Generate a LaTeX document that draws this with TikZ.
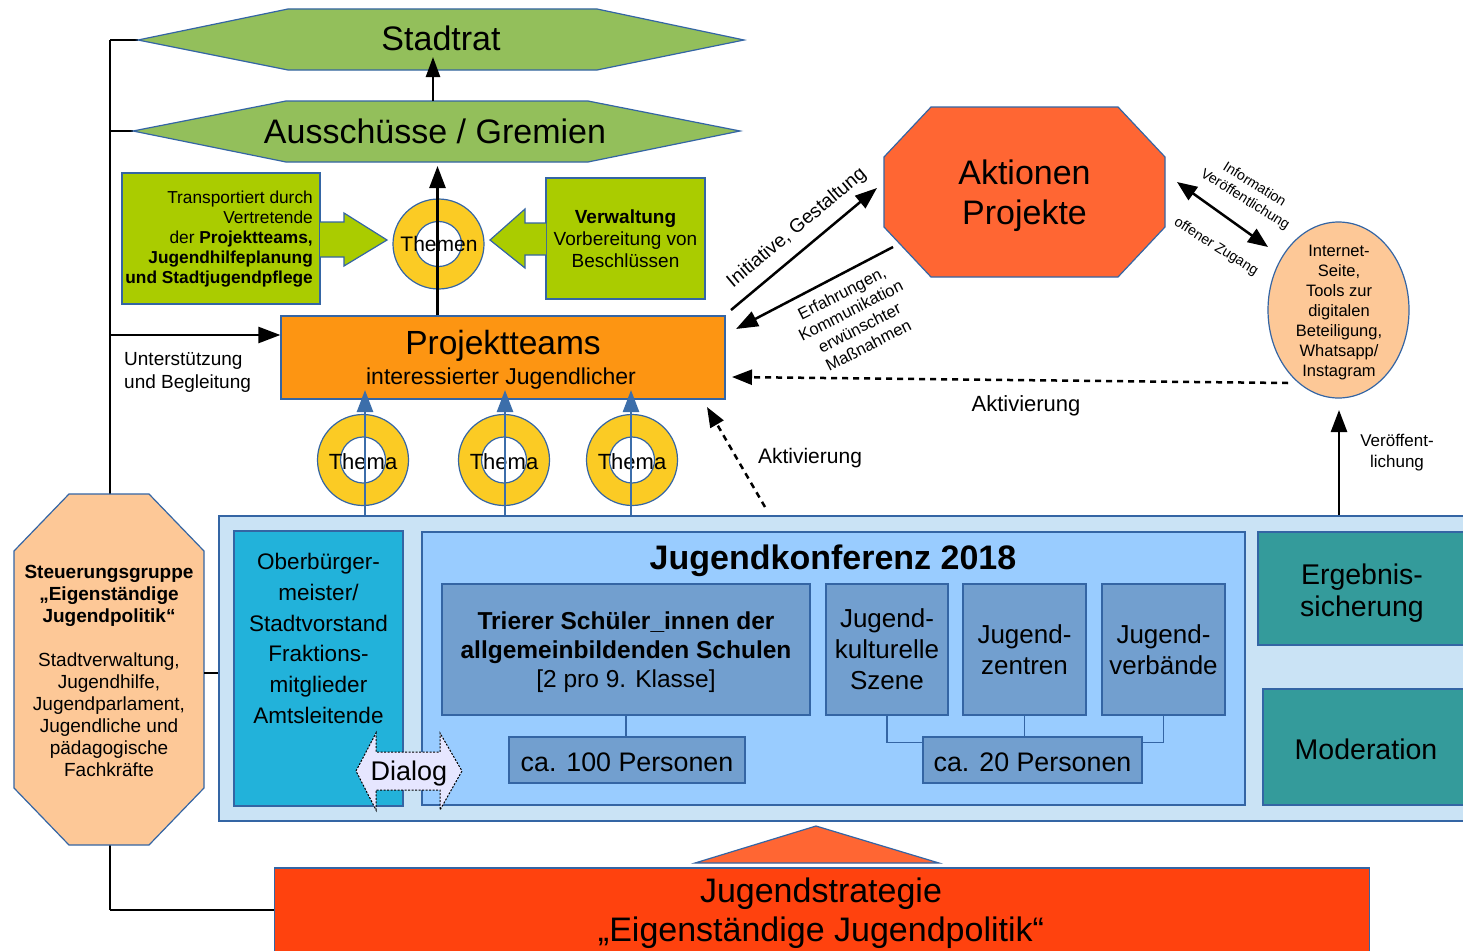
\documentclass[tikz,border=0pt]{standalone}
\usepackage{fontspec}
\setmainfont{Liberation Sans}
\usetikzlibrary{arrows.meta,calc,shapes.geometric}
\definecolor{cHex}{HTML}{93BF5B}
\definecolor{cLime}{HTML}{AACC00}
\definecolor{cYel}{HTML}{FBCB24}
\definecolor{cOrg}{HTML}{FD9512}
\definecolor{cAkt}{HTML}{FF6633}
\definecolor{cStrat}{HTML}{FF420E}
\definecolor{cPeach}{HTML}{FDC897}
\definecolor{cBig}{HTML}{CAE3F5}
\definecolor{cCyan}{HTML}{22B2DA}
\definecolor{cKonf}{HTML}{99CCFF}
\definecolor{cSteel}{HTML}{729FCF}
\definecolor{cTeal}{HTML}{349B9B}
\definecolor{cLav}{HTML}{E6E6FF}
\definecolor{cBord}{HTML}{3465A4}
\definecolor{cBlueArr}{HTML}{3C6EAA}
\newcommand\fsz[2]{\fontsize{#1}{#2}\selectfont}
\begin{document}
\begin{tikzpicture}[x=1pt,y=-1pt,
  bord/.style={draw=cBord,line width=1.2pt},
  rbox/.style={bord,rectangle,inner sep=0pt},
  ring/.style={bord,ellipse,inner sep=0pt,fill=cYel},
  blk/.style={line width=2.5pt,draw=black},
  arr/.style={line width=2.5pt,-{Triangle[length=22pt,width=16pt]}},
  darr/.style={line width=2.5pt,dash pattern=on 6pt off 5pt,-{Triangle[length=20pt,width=15pt]}},
  barr/.style={line width=2.5pt,draw=cBlueArr,-{Triangle[length=22pt,width=16pt]}},
  lbl/.style={inner sep=0pt,align=center}
]
\useasboundingbox (0,0) rectangle (1463,950);
\clip (0,0) rectangle (1463,950);
\fill[white] (0,0) rectangle (1463,950);

% left vertical line and ticks
\coordinate (ltop) at (110,40);
\coordinate (lgre) at (110,131);
\coordinate (lbot) at (110,910);
\coordinate (ratW) at (138,40);
\coordinate (greW) at (133,131);
\draw[blk] (ltop) -- (lbot);
\draw[blk] (ltop) -- (ratW);
\draw[blk] (lgre) -- (greW);

% Stadtrat
\path[bord,fill=cHex] (ratW) -- (288,9) -- (597,9) -- (744,40) -- (597,70) -- (288,70) -- cycle;
\node[lbl,font=\fsz{34}{40}] (rat) at (441,38.5) {Stadtrat};
% Ausschuesse
\path[bord,fill=cHex] (greW) -- (286,101) -- (588,101) -- (740,131) -- (588,162) -- (286,162) -- cycle;
\node[lbl,font=\fsz{34}{40}] (gre) at (435,131) {Ausschüsse / Gremien};
\coordinate (greTop) at (433,101);
\coordinate (ratIn) at (433,57);
\draw[line width=2.5pt,-{Triangle[length=20pt,width=14pt]}] (greTop) -- (ratIn);

% green boxes
\node[rbox,fill=cLime,minimum width=198,minimum height=131] (gl) at (221,238.5) {};
\node[lbl,align=right,anchor=east,font=\fsz{17.3}{20}] (glt) at (313,239) {Transportiert durch\\Vertretende\\der \textbf{Projektteams,}\\\textbf{Jugendhilfeplanung}\\\textbf{und Stadtjugendpflege}};
\path[bord,fill=cLime] (320,222) -- (344,222) -- (344,213) -- (387,240) -- (344,266) -- (344,257) -- (320,257);
\node[rbox,fill=cLime,minimum width=159,minimum height=121] (gr) at (625.5,238.5) {};
\node[lbl,font=\fsz{19}{22}] (grt) at (625.5,239) {\textbf{Verwaltung}\\Vorbereitung von\\Beschlüssen};
\path[bord,fill=cLime] (546,223) -- (525,223) -- (525,209) -- (490,240) -- (525,268) -- (525,255) -- (546,255);

% Themen ring
\node[ring,minimum width=91,minimum height=90] (thm) at (438.5,244) {};
\path[bord,fill=white] (thm.center) ellipse [x radius=23pt,y radius=22.5pt];
\node[lbl,font=\fsz{21}{24}] (thmt) at (439,244) {Themen};

% Projektteams
\node[rbox,fill=cOrg,minimum width=444,minimum height=83] (pt) at (503,357.5) {};
\node[lbl,font=\fsz{33.5}{36}] (ptt) at (503,346) {Projektteams};
\node[lbl,font=\fsz{23}{26}] (pts) at (501,378.5) {interessierter Jugendlicher};
\coordinate (greBot) at (437.5,166);
\draw[arr] (greBot |- pt.north) -- (greBot);

% Unterstuetzung
\coordinate (sup) at (110,335);
\draw[arr] (sup) -- (sup -| pt.west);
\node[lbl,anchor=west,align=left,font=\fsz{19}{23}] (supt) at (124,372) {Unterstützung\\und Begleitung};

% big box
\node[rbox,fill=cBig,minimum width=1256,minimum height=305] (big) at (847,668.5) {};

% Thema rings
\foreach \n/\cx/\ax in {t1/363/365,t2/504/505,t3/632/631}{
  \node[ring,minimum width=91,minimum height=91] (\n) at (\cx,460) {};
  \path[bord,fill=white] (\n.center) ellipse [x radius=22.5pt,y radius=23pt];
  \node[lbl,font=\fsz{22}{24}] (\n txt) at (\cx,462) {Thema};
  \coordinate (\n a) at (\ax,390);
  \draw[barr] (\n a |- big.north) -- (\n a);
}

% Aktionen
\path[bord,fill=cAkt] (931,107) -- (1118,107) -- (1165,157) -- (1165,227) -- (1118,277) -- (931,277) -- (884,227) -- (884,157) -- cycle;
\node[lbl,font=\fsz{34}{40}] (akt) at (1024.5,195.5) {Aktionen\\Projekte};
\coordinate (i1) at (731,310);
\coordinate (i2) at (877,188);
\draw[arr] (i1) -- (i2);
\node[lbl,rotate=40,font=\fsz{19.3}{20}] (it) at (797,228) {Initiative, Gestaltung};
\coordinate (e1) at (893,247);
\coordinate (e2) at (736,329);
\draw[arr] (e1) -- (e2);
\node[lbl,rotate=27,font=\fsz{16.6}{19.5}] (et) at (855,319) {Erfahrungen,\\Kommunikation\\erwünschter\\Maßnahmen};

% Internet ellipse
\node[bord,ellipse,inner sep=0pt,fill=cPeach,minimum width=141,minimum height=176] (web) at (1338.5,310) {};
\node[lbl,font=\fsz{16.5}{20}] (webt) at (1339,312.5) {Internet-\\Seite,\\Tools zur\\digitalen\\Beteiligung,\\Whatsapp/\\Instagram};
\coordinate (d1) at (1177,182);
\coordinate (d2) at (1268,247);
\draw[line width=2.5pt,{Triangle[length=20pt,width=16pt]}-{Triangle[length=20pt,width=16pt]}] (d1) -- (d2);
\node[lbl,rotate=-32,font=\fsz{14.2}{16}] (inf1) at (1255,184) {Information};
\node[lbl,rotate=-32,font=\fsz{14.2}{16}] (inf2) at (1245,200) {Veröffentlichung};
\node[lbl,rotate=-32,font=\fsz{14.2}{16}] (inf3) at (1216,247) {offener Zugang};

% Aktivierung
\coordinate (a1s) at (1288,383);
\coordinate (a1e) at (732,377);
\draw[darr] (a1s) -- (a1e);
\node[lbl,font=\fsz{22}{24}] (a1t) at (1026,406) {Aktivierung};
\coordinate (a2s) at (765,507);
\coordinate (a2e) at (707,407);
\draw[darr] (a2s) -- (a2e);
\node[lbl,font=\fsz{21}{24}] (a2t) at (810,458) {Aktivierung};

% Veroeffentlichung arrow
\coordinate (v2) at (1339,410);
\draw[arr] (v2 |- big.north) -- (v2);
\node[lbl,font=\fsz{17}{21}] (vt) at (1397,453) {Veröffent-\\lichung};

% inner boxes
\node[rbox,fill=cCyan,minimum width=169,minimum height=275] (ob) at (318.5,668.5) {};
\node[lbl,font=\fsz{22.5}{30.7}] (obt) at (318.5,638.5) {Oberbürger-\\meister/\\Stadtvorstand\\Fraktions-\\mitglieder\\Amtsleitende};
\node[rbox,fill=cKonf,minimum width=823,minimum height=273] (kon) at (833.5,668.5) {};
\node[lbl,font=\bfseries\fsz{34}{36}] (kont) at (833,561) {Jugendkonferenz 2018};
\node[rbox,fill=cSteel,minimum width=368,minimum height=131] (tri) at (626,649.5) {};
\node[lbl,font=\fsz{24.5}{29}] (trit) at (626,652.5) {\textbf{Trierer Schüler\_innen der}\\\textbf{allgemeinbildenden Schulen}\\{[2 pro 9. Klasse]}};
\node[rbox,fill=cSteel,minimum width=122,minimum height=131,font=\fsz{26}{31},align=center] (kul) at (887,649.5) {Jugend-\\kulturelle\\Szene};
\node[rbox,fill=cSteel,minimum width=123,minimum height=131,font=\fsz{26}{31},align=center] (zen) at (1024.5,649.5) {Jugend-\\zentren};
\node[rbox,fill=cSteel,minimum width=123,minimum height=131,font=\fsz{26}{31},align=center] (ver) at (1163.5,649.5) {Jugend-\\verbände};
\node[rbox,fill=cSteel,minimum width=236,minimum height=46] (p100) at (627,760) {};
\node[lbl,font=\fsz{26.8}{30}] (p100t) at (627,762) {ca. 100 Personen};
\node[rbox,fill=cSteel,minimum width=219,minimum height=46] (p20) at (1032.5,760) {};
\node[lbl,font=\fsz{26.8}{30}] (p20t) at (1032.5,762) {ca. 20 Personen};
\draw[bord] (tri.south) -- (tri.south |- p100.north);
\draw[bord] (kul.south) |- ($(p20.north west)+(0,6)$);
\draw[bord] (zen.south) -- (zen.south |- p20.north);
\draw[bord] (ver.south) |- ($(p20.north east)+(0,6)$);
\node[rbox,fill=cTeal,minimum width=208,minimum height=113] (erg) at (1362,588.5) {};
\node[lbl,font=\fsz{28.5}{32}] (ergt) at (1362,593.5) {Ergebnis-\\sicherung};
\node[rbox,fill=cTeal,minimum width=206,minimum height=116] (mod) at (1366,747) {};
\node[lbl,font=\fsz{28.5}{32}] (modt) at (1366,749) {Moderation};

% Dialog
\path[draw=black,line width=1pt,dash pattern=on 2pt off 1.5pt,fill=cLav] (356,771) -- (376,733) -- (376,752) -- (440,752) -- (440,733) -- (462,771) -- (440,810) -- (440,790) -- (376,790) -- (376,810) -- cycle;
\node[lbl,font=\fsz{27}{30}] (dlg) at (409,774) {Dialog};

% Steuerungsgruppe
\path[bord,fill=cPeach] (69,494) -- (149,494) -- (204,551) -- (204,788) -- (149,845) -- (69,845) -- (14,788) -- (14,551) -- cycle;
\node[lbl,font=\fsz{19}{22}] (stg) at (109,671) {\textbf{Steuerungsgruppe}\\\textbf{„Eigenständige}\\\textbf{Jugendpolitik“}\\[22pt]Stadtverwaltung,\\Jugendhilfe,\\Jugendparlament,\\Jugendliche und\\pädagogische\\Fachkräfte};
\coordinate (stgR) at (204,673);
\draw[blk] (stgR) -- (stgR -| big.west);

% Jugendstrategie
\path[bord,fill=cAkt] (695,863) -- (816,826) -- (939,863) -- cycle;
\node[rbox,fill=cStrat,minimum width=1095,minimum height=84] (js) at (822,910) {};
\node[lbl,font=\fsz{34}{39}] (jst) at (821,913) {Jugendstrategie\\„Eigenständige Jugendpolitik“};
\draw[blk] (lbot) -- (lbot -| js.west);
\end{tikzpicture}
\end{document}
